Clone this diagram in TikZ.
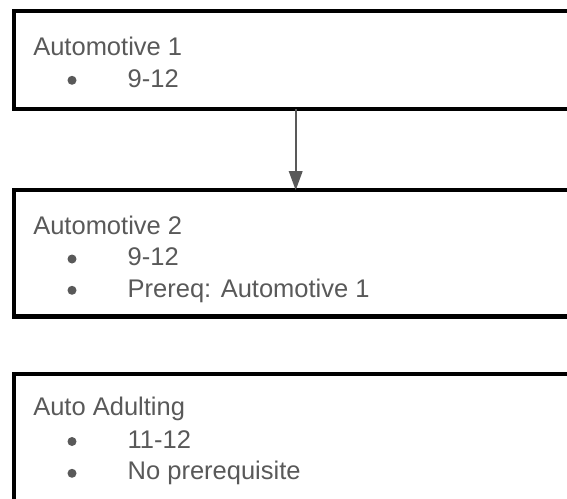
\documentclass[tikz,border=0pt]{standalone}
\usepackage{fontspec}
\setmainfont{Liberation Sans}
\usetikzlibrary{arrows.meta}
\definecolor{txtgray}{HTML}{595959}
\begin{document}
\begin{tikzpicture}[x=1pt,y=-1pt,
  box/.style={draw=black, line width=4.2pt, rectangle, inner sep=0pt, outer sep=0pt, anchor=north west, minimum width=620pt},
  lbl/.style={anchor=base west, inner sep=0pt, outer sep=0pt, text=txtgray, font=\fontsize{25.5}{30}\selectfont},
  dot/.style={circle, fill=txtgray, inner sep=0pt, minimum size=9pt},
  conn/.style={draw=txtgray, line width=1.7pt, -{Triangle[length=19pt,width=13.5pt]}}]
\useasboundingbox (0,0) rectangle (567,498);
\fill[white] (0,0) rectangle (567,498);
\begin{scope}
\clip (0,0) rectangle (567,498);
% boxes
\node[box, minimum height=97.5pt] (b1) at (13.8,11.3) {};
\node[box, minimum height=126.2pt] (b2) at (13.8,190.2) {};
\node[box, minimum height=200pt] (b3) at (13.8,373.8) {};
% connector
\coordinate (ax) at (295.7,0);
\draw[conn] (b1.south -| ax) -- (b2.north -| ax);
% box 1 text
\node[lbl] (t1) at (33.3,55) {Automotive 1};
\node[dot] (d11) at (72,80.3) {};
\node[lbl] (t11) at (127.7,87.3) {9-12};
% box 2 text
\node[lbl] (t2) at (33.3,234) {Automotive 2};
\node[dot] (d21) at (72,259) {};
\node[lbl] (t21) at (127.7,265.7) {9-12};
\node[dot] (d22) at (72,290.3) {};
\node[lbl] (t22) at (127.7,297) {Prereq: Automotive 1};
% box 3 text
\node[lbl] (t3) at (33.3,415) {Auto Adulting};
\node[dot] (d31) at (72,441.5) {};
\node[lbl] (t31) at (127.7,448.3) {11-12};
\node[dot] (d32) at (72,473.3) {};
\node[lbl] (t32) at (127.7,479.5) {No prerequisite};
\end{scope}
\end{tikzpicture}
\end{document}
